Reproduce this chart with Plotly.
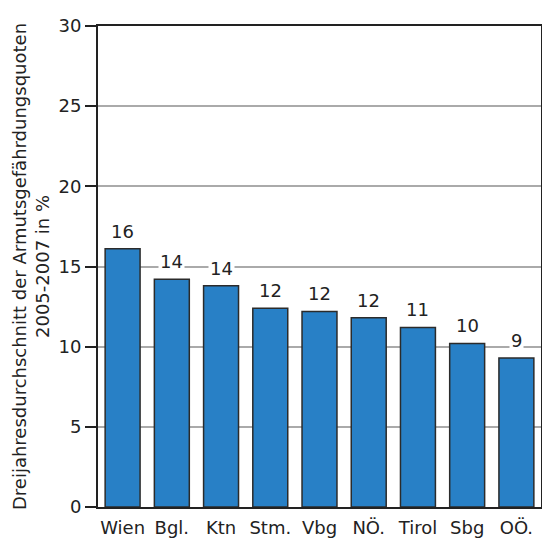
import plotly.graph_objects as go

regions = ["Wien", "Bgl.", "Ktn", "Stm.", "Vbg", "NÖ.", "Tirol", "Sbg", "OÖ."]
values = [16.1, 14.2, 13.8, 12.4, 12.2, 11.8, 11.2, 10.2, 9.3]
labels = ["16", "14", "14", "12", "12", "12", "11", "10", "9"]
y_ticks = [0, 5, 10, 15, 20, 25, 30]

FONT = "DejaVu Sans, Liberation Sans, Arial, sans-serif"

fig = go.Figure()
fig.add_trace(go.Bar(
    x=regions, y=values,
    marker=dict(color="#2880c6", line=dict(color="#2b2b2b", width=1.5)),
    width=0.71,
    hoverinfo="skip",
))

for r, v, t in zip(regions, values, labels):
    fig.add_annotation(
        x=r, y=v, text=t, showarrow=False, yanchor="bottom", yshift=5,
        font=dict(family=FONT, size=18, color="#222"),
        bgcolor="white", borderpad=1,
    )

fig.update_layout(
    width=542, height=538,
    margin=dict(l=98, r=1, t=26, b=31),
    paper_bgcolor="white", plot_bgcolor="white",
    showlegend=False,
    font=dict(family=FONT, size=18, color="#222"),
    bargap=0.29,
)
fig.update_xaxes(
    showline=True, linecolor="#222", linewidth=2, mirror=True,
    ticks="", tickfont=dict(size=18), ticklabelstandoff=3,
    automargin=False,
)
fig.update_yaxes(
    range=[0, 30], tickvals=y_ticks,
    showline=True, linecolor="#222", linewidth=2, mirror=True,
    ticks="outside", ticklen=11, tickcolor="#222", tickwidth=1.5,
    showgrid=True, gridcolor="#aaaaaa", gridwidth=1.5,
    tickfont=dict(size=18),
    title=dict(text="Dreijahresdurchschnitt der Armutsgefährdungsquoten<br>2005-2007 in %",
               font=dict(size=18), standoff=4),
    zeroline=False, automargin=False,
)

fig.write_html(
    "out.html",
    config={"displayModeBar": False},
    post_script="document.body.style.margin='0';document.body.style.overflow='hidden';",
)
